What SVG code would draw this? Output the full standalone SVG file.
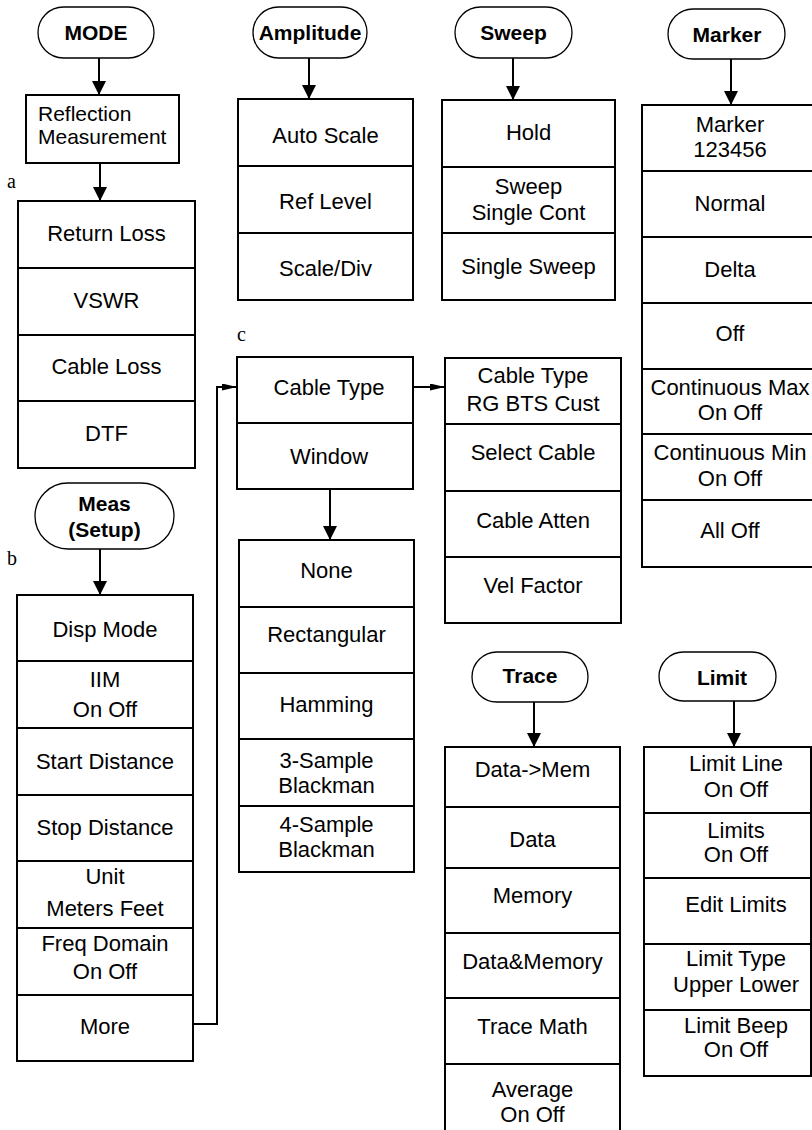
<svg xmlns="http://www.w3.org/2000/svg" width="812" height="1130" viewBox="0 0 812 1130">
<style>
.bg{fill:#fff}
.box{fill:#fff;stroke:#000;stroke-width:2}
.dv{stroke:#000;stroke-width:2;fill:none}
.pill{fill:#fff;stroke:#000;stroke-width:1.3}
.t{font-family:"Liberation Sans",Arial,sans-serif;font-size:22px;text-anchor:middle;fill:#000}
.tl{font-family:"Liberation Sans",Arial,sans-serif;font-size:21px;fill:#000}
.tb{font-family:"Liberation Sans",Arial,sans-serif;font-size:21px;font-weight:bold;text-anchor:middle;fill:#000}
.lbl{font-family:"Liberation Serif","Times New Roman",serif;font-size:20px;fill:#000}
.conn{stroke:#000;stroke-width:2;fill:none}
.big{marker-end:url(#ah)}
.small{marker-end:url(#as)}
</style>
<defs>
<marker id="ah" markerUnits="userSpaceOnUse" markerWidth="16" markerHeight="16" refX="14" refY="7" orient="auto"><path d="M0,0 L14,7 L0,14 z" fill="#000"/></marker>
<marker id="as" markerUnits="userSpaceOnUse" markerWidth="16" markerHeight="10" refX="15" refY="3.5" orient="auto"><path d="M0,0 L15,3.5 L0,7 z" fill="#000"/></marker>
</defs>
<rect class="bg" x="0" y="0" width="812" height="1130"/>

<g id="connectors">
<path class="conn big" d="M99,58 V95"/>
<path class="conn big" d="M100,163 V201"/>
<path class="conn big" d="M309,58 V99"/>
<path class="conn big" d="M513,58 V100"/>
<path class="conn big" d="M731,59 V105"/>
<path class="conn big" d="M100,549 V595"/>
<path class="conn small" d="M193,1024 H217 V387 H237"/>
<path class="conn small" d="M413,387 H445"/>
<path class="conn big" d="M330,489 V540"/>
<path class="conn big" d="M534,702 V747"/>
<path class="conn big" d="M734,701 V747"/>
</g>

<g id="labels">
<text class="lbl" x="7" y="188">a</text>
<text class="lbl" x="7" y="565">b</text>
<text class="lbl" x="237" y="341">c</text>
</g>

<g id="mode">
<rect class="pill" x="38" y="7" width="116" height="51" rx="25.5"/>
<text class="tb" x="96" y="39.5">MODE</text>
</g>

<g id="reflection">
<rect class="box" x="26" y="95" width="153" height="68"/>
<text class="tl" x="38" y="121">Reflection</text>
<text class="tl" x="38" y="144">Measurement</text>
</g>

<g id="mode-menu">
<rect class="box" x="18" y="201" width="177" height="267"/>
<path class="dv" d="M18,268 H195 M18,335 H195 M18,401 H195"/>
<text class="t" x="106.5" y="241">Return Loss</text>
<text class="t" x="106.5" y="308">VSWR</text>
<text class="t" x="106.5" y="374">Cable Loss</text>
<text class="t" x="106.5" y="441">DTF</text>
</g>

<g id="meas">
<rect class="pill" x="35" y="483" width="139" height="66" rx="33"/>
<text class="tb" x="104.5" y="511">Meas</text>
<text class="tb" x="104.5" y="537">(Setup)</text>
</g>

<g id="meas-menu">
<rect class="box" x="17" y="595" width="176" height="466"/>
<path class="dv" d="M17,661 H193 M17,728 H193 M17,795 H193 M17,861 H193 M17,928 H193 M17,995 H193"/>
<text class="t" x="105" y="637">Disp Mode</text>
<text class="t" x="105" y="687">IIM</text>
<text class="t" x="105" y="717">On Off</text>
<text class="t" x="105" y="769">Start Distance</text>
<text class="t" x="105" y="835">Stop Distance</text>
<text class="t" x="105" y="884">Unit</text>
<text class="t" x="105" y="916">Meters Feet</text>
<text class="t" x="105" y="951">Freq Domain</text>
<text class="t" x="105" y="979">On Off</text>
<text class="t" x="105" y="1034">More</text>
</g>

<g id="amplitude">
<rect class="pill" x="253" y="7" width="114" height="51" rx="25.5"/>
<text class="tb" x="310" y="39.5">Amplitude</text>
</g>

<g id="amplitude-menu">
<rect class="box" x="238" y="99" width="175" height="201"/>
<path class="dv" d="M238,166 H413 M238,233 H413"/>
<text class="t" x="325.5" y="143">Auto Scale</text>
<text class="t" x="325.5" y="209">Ref Level</text>
<text class="t" x="325.5" y="276">Scale/Div</text>
</g>

<g id="sweep">
<rect class="pill" x="455" y="7" width="117" height="51" rx="25.5"/>
<text class="tb" x="513.5" y="39.5">Sweep</text>
</g>

<g id="sweep-menu">
<rect class="box" x="442" y="100" width="173" height="200"/>
<path class="dv" d="M442,167 H615 M442,233 H615"/>
<text class="t" x="528.5" y="140">Hold</text>
<text class="t" x="528.5" y="194">Sweep</text>
<text class="t" x="528.5" y="220">Single Cont</text>
<text class="t" x="528.5" y="274">Single Sweep</text>
</g>

<g id="marker">
<rect class="pill" x="668" y="9" width="117" height="50" rx="25"/>
<text class="tb" x="727" y="41.5">Marker</text>
</g>

<g id="marker-menu">
<rect class="box" x="642" y="105" width="176" height="462"/>
<path class="dv" d="M642,171 H818 M642,237 H818 M642,303 H818 M642,369 H818 M642,434 H818 M642,500 H818"/>
<text class="t" x="730" y="131.5">Marker</text>
<text class="t" x="730" y="156.5">123456</text>
<text class="t" x="730" y="210.5">Normal</text>
<text class="t" x="730" y="276.5">Delta</text>
<text class="t" x="730" y="341">Off</text>
<text class="t" x="730" y="395">Continuous Max</text>
<text class="t" x="730" y="420">On Off</text>
<text class="t" x="730" y="460">Continuous Min</text>
<text class="t" x="730" y="485.5">On Off</text>
<text class="t" x="730" y="538">All Off</text>
</g>

<g id="cable-window-menu">
<rect class="box" x="237" y="357" width="176" height="132"/>
<path class="dv" d="M237,423 H413"/>
<text class="t" x="329" y="395">Cable Type</text>
<text class="t" x="329" y="464">Window</text>
</g>

<g id="window-menu">
<rect class="box" x="239" y="540" width="175" height="332"/>
<path class="dv" d="M239,607 H414 M239,673 H414 M239,739 H414 M239,806 H414"/>
<text class="t" x="326.5" y="578">None</text>
<text class="t" x="326.5" y="642">Rectangular</text>
<text class="t" x="326.5" y="712">Hamming</text>
<text class="t" x="326.5" y="768">3-Sample</text>
<text class="t" x="326.5" y="793">Blackman</text>
<text class="t" x="326.5" y="832">4-Sample</text>
<text class="t" x="326.5" y="857">Blackman</text>
</g>

<g id="cable-type-menu">
<rect class="box" x="445" y="358" width="176" height="265"/>
<path class="dv" d="M445,424 H621 M445,491 H621 M445,557 H621"/>
<text class="t" x="533" y="382.5">Cable Type</text>
<text class="t" x="533" y="410.5">RG BTS Cust</text>
<text class="t" x="533" y="460">Select Cable</text>
<text class="t" x="533" y="528">Cable Atten</text>
<text class="t" x="533" y="593">Vel Factor</text>
</g>

<g id="trace">
<rect class="pill" x="472" y="652" width="116" height="50" rx="25"/>
<text class="tb" x="530" y="683">Trace</text>
</g>

<g id="trace-menu">
<rect class="box" x="445" y="747" width="175" height="400"/>
<path class="dv" d="M445,807 H620 M445,868 H620 M445,933 H620 M445,998 H620 M445,1064 H620"/>
<text class="t" x="532.5" y="777">Data-&gt;Mem</text>
<text class="t" x="532.5" y="847">Data</text>
<text class="t" x="532.5" y="903">Memory</text>
<text class="t" x="532.5" y="969">Data&amp;Memory</text>
<text class="t" x="532.5" y="1034">Trace Math</text>
<text class="t" x="532.5" y="1097">Average</text>
<text class="t" x="532.5" y="1122">On Off</text>
</g>

<g id="limit">
<rect class="pill" x="659" y="652" width="117" height="49" rx="24.5"/>
<text class="tb" x="722" y="685">Limit</text>
</g>

<g id="limit-menu">
<rect class="box" x="644" y="747" width="167" height="329"/>
<path class="dv" d="M644,813 H811 M644,878 H811 M644,944 H811 M644,1010 H811"/>
<text class="t" x="736" y="771">Limit Line</text>
<text class="t" x="736" y="796.5">On Off</text>
<text class="t" x="736" y="838">Limits</text>
<text class="t" x="736" y="861.5">On Off</text>
<text class="t" x="736" y="911.5">Edit Limits</text>
<text class="t" x="736" y="966">Limit Type</text>
<text class="t" x="736" y="992">Upper Lower</text>
<text class="t" x="736" y="1033">Limit Beep</text>
<text class="t" x="736" y="1056.5">On Off</text>
</g>
</svg>
